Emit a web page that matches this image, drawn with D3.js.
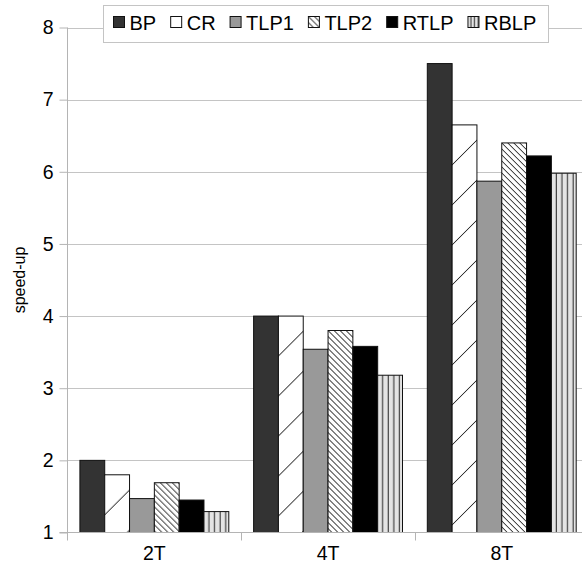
<!DOCTYPE html>
<html><head><meta charset="utf-8">
<script src="https://cdn.jsdelivr.net/npm/d3@7"></script>
<style>body{margin:0;background:#fff} svg{display:block}</style>
</head><body><svg id="c" width="582" height="568"></svg>
<script>
// ---- data ----
const categories = ["2T", "4T", "8T"];
const seriesNames = ["BP", "CR", "TLP1", "TLP2", "RTLP", "RBLP"];
const bpValues   = [2.00, 4.00, 7.50];
const crValues   = [1.80, 4.00, 6.65];
const tlp1Values = [1.47, 3.54, 5.87];
const tlp2Values = [1.69, 3.80, 6.40];
const rtlpValues = [1.45, 3.58, 6.22];
const rblpValues = [1.29, 3.18, 5.98];
const yTicks = [1, 2, 3, 4, 5, 6, 7, 8];
const yTitle = "speed-up";

(function () {
const valuesBySeries = {BP: bpValues, CR: crValues, TLP1: tlp1Values, TLP2: tlp2Values, RTLP: rtlpValues, RBLP: rblpValues};
const rows = [];
categories.forEach((c, ci) => seriesNames.forEach(s => rows.push({cat: c, series: s, value: valuesBySeries[s][ci]})));

// ---- layout ----
const FONT = "'Liberation Sans', Arial, Helvetica, sans-serif";
const pL = 67.5, pR = 588.6, pT = 27.5, pB = 532.5;
const svg = d3.select("#c");
const defs = svg.append("defs");

const x = d3.scaleBand().domain(categories).range([pL, pR]).paddingInner(0).paddingOuter(0);
const xs = d3.scaleBand().domain(seriesNames).range([0, x.bandwidth()]).paddingInner(0).paddingOuter(0.5);
const y = d3.scaleLinear().domain([1, 8]).range([pB, pT]);

const solid = {BP: "#333333", TLP1: "#999999", RTLP: "#000000", CR: "#ffffff"};
let pid = 0;
function makeFill(s, px, py, legend) {
  if (s === "CR" && !legend) {
    const id = "pat" + (pid++);
    const p = defs.append("pattern").attr("id", id).attr("patternUnits", "userSpaceOnUse")
      .attr("x", px).attr("y", py).attr("width", 40).attr("height", 40);
    p.append("rect").attr("width", 40).attr("height", 40).attr("fill", "#fff");
    p.append("path").attr("d", "M0,40 L40,0 M-2,2 L2,-2 M38,42 L42,38").attr("stroke", "#000").attr("stroke-width", 1);
    return `url(#${id})`;
  }
  if (s === "TLP2") {
    const id = "pat" + (pid++);
    const w = 6;
    const p = defs.append("pattern").attr("id", id).attr("patternUnits", "userSpaceOnUse")
      .attr("x", px).attr("y", py).attr("width", w).attr("height", w);
    p.append("rect").attr("width", w).attr("height", w).attr("fill", "#fff");
    p.append("path").attr("d", `M-1,-1 L${w+1},${w+1} M-1,${w-1} L1,${w+1} M${w-1},-1 L${w+1},1`).attr("stroke", "#000").attr("stroke-width", 1);
    return `url(#${id})`;
  }
  if (s === "RBLP") {
    const id = "pat" + (pid++);
    const w = legend ? 3.6 : 5.6;
    const p = defs.append("pattern").attr("id", id).attr("patternUnits", "userSpaceOnUse")
      .attr("x", px).attr("y", py).attr("width", w).attr("height", 10);
    p.append("rect").attr("width", w).attr("height", 10).attr("fill", "#e4e4e4");
    p.append("line").attr("x1", w - 0.6).attr("x2", w - 0.6).attr("y1", 0).attr("y2", 10).attr("stroke", "#444").attr("stroke-width", 1.2);
    return `url(#${id})`;
  }
  return solid[s];
}

// gridlines
svg.append("g").selectAll("line").data(yTicks.filter(t => t > 1)).join("line")
  .attr("x1", pL).attr("x2", 582).attr("y1", d => Math.round(y(d)) + 0.5).attr("y2", d => Math.round(y(d)) + 0.5)
  .attr("stroke", "#c4c4c4").attr("stroke-width", 1);

// bars
svg.append("g").selectAll("rect").data(rows).join("rect")
  .each(function(d) {
    const bx = x(d.cat) + xs(d.series), by = y(d.value);
    d3.select(this).attr("x", bx).attr("y", by).attr("width", xs.bandwidth()).attr("height", pB - by)
      .attr("fill", makeFill(d.series, bx, by, false));
  })
  .attr("stroke", "#111").attr("stroke-width", 1);

// y axis
const yAxis = d3.axisLeft(y).tickValues(yTicks).tickSize(8).tickSizeOuter(0).tickPadding(6).tickFormat(d3.format("d"));
const gy = svg.append("g").attr("transform", `translate(${pL},0)`).call(yAxis);
gy.select(".domain").remove();
gy.selectAll(".tick line").attr("stroke", "#b4b4b4");
gy.selectAll(".tick text").attr("font-family", FONT).attr("font-size", 19.5).attr("fill", "#000");
svg.append("line").attr("x1", pL).attr("x2", pL).attr("y1", pT).attr("y2", pB + 8).attr("stroke", "#b4b4b4");

// x axis
svg.append("line").attr("x1", pL - 8).attr("x2", 582).attr("y1", pB).attr("y2", pB).attr("stroke", "#b4b4b4");
const bounds = categories.map(c => x(c)).concat([x(categories[categories.length - 1]) + x.bandwidth()]);
svg.append("g").selectAll("line").data(bounds.slice(1)).join("line")
  .attr("x1", d => Math.round(d) + 0.5).attr("x2", d => Math.round(d) + 0.5).attr("y1", pB).attr("y2", pB + 8).attr("stroke", "#b4b4b4");
const xAxis = d3.axisBottom(x).tickSize(0).tickPadding(14);
const gx = svg.append("g").attr("transform", `translate(0,${pB})`).call(xAxis);
gx.select(".domain").remove();
gx.selectAll(".tick text").attr("font-family", FONT).attr("font-size", 19.5).attr("fill", "#000");

// y title
svg.append("text").attr("transform", `translate(25,280) rotate(-90)`)
  .attr("text-anchor", "middle").attr("font-family", FONT).attr("font-size", 16).attr("fill", "#000").text(yTitle);

// legend
const lg = svg.append("g");
lg.append("rect").attr("x", 103.5).attr("y", 5.5).attr("width", 445).attr("height", 37)
  .attr("fill", "#fff").attr("stroke", "#c4c4c4");
let lx = 113.5;
seriesNames.forEach(s => {
  const sy = 16.5;
  lg.append("rect").attr("x", lx).attr("y", sy).attr("width", 11).attr("height", 11)
    .attr("fill", makeFill(s, lx, sy, true)).attr("stroke", "#111").attr("stroke-width", 1);
  const t = lg.append("text").attr("x", lx + 16).attr("y", 30).attr("font-family", FONT).attr("font-size", 20).attr("fill", "#000").text(s);
  lx += 16 + t.node().getComputedTextLength() + 14.5;
});
})();
</script></body></html>
